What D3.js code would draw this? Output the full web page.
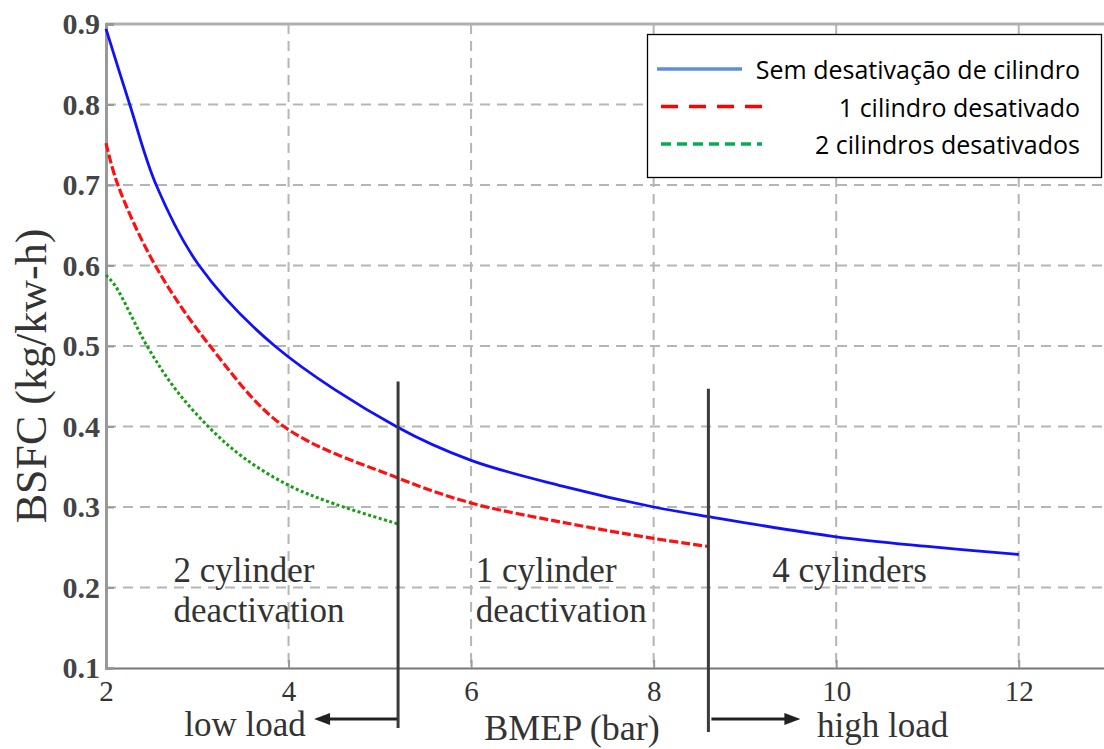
<!DOCTYPE html>
<html lang="pt">
<head>
<meta charset="UTF-8">
<title>BSFC vs BMEP</title>
<style>
  body { margin: 0; background: #fff; }
  .tick text { font-family: "Liberation Serif", "DejaVu Serif", serif; }
  .serif { font-family: "Liberation Serif", "DejaVu Serif", serif; fill: #333; }
  .legend text { font-family: "Open Sans", "Liberation Sans", sans-serif; font-size: 25px; fill: #000; }
</style>
</head>
<body>
<svg width="1104" height="749"></svg>
<script src="https://d3js.org/d3.v7.min.js"></script>
<script>

  // blue: no deactivation, red: 1 cylinder off, green: 2 cylinders off
  var bmepBlue  = [2, 2.26, 2.55, 3.02, 3.85, 5.18, 6, 7, 8, 8.6, 10, 11, 12];
  var bsfcBlue  = [0.894, 0.80, 0.70, 0.60, 0.50, 0.40, 0.358, 0.326, 0.30, 0.288, 0.263, 0.251, 0.241];

  var bmepRed   = [2, 2.13, 2.54, 3.14, 3.95, 5.2, 6, 7, 8, 8.6];
  var bsfcRed   = [0.752, 0.70, 0.60, 0.50, 0.40, 0.336, 0.305, 0.281, 0.261, 0.251];

  var bmepGreen = [2, 2.1, 2.45, 2.75, 3.12, 3.5, 4, 4.5, 5.2];
  var bsfcGreen = [0.588, 0.575, 0.50, 0.448, 0.40, 0.362, 0.327, 0.304, 0.279];

  var xTicks = [2, 4, 6, 8, 10, 12];
  var yTicks = [0.1, 0.2, 0.3, 0.4, 0.5, 0.6, 0.7, 0.8, 0.9];

  var legendLabels = ["Sem desativação de cilindro", "1 cilindro desativado", "2 cilindros desativados"];
  var regionLabels = [["2 cylinder", "deactivation"], ["1 cylinder", "deactivation"], ["4 cylinders"]];
  var regionStart = [2.74, 6.05, 9.3];
  var dividers = [5.2, 8.6];
  var dividerTop = [0.456, 0.447];

  var svg = d3.select("svg");

  var x = d3.scaleLinear().domain([2, 13]).range([106, 1110]);
  var y = d3.scaleLinear().domain([0.1, 0.9]).range([668, 24]);

  // grid
  var grid = svg.append("g");
  grid.selectAll(".hgrid")
      .data(yTicks.slice(1, 8))
      .enter().append("line")
      .attr("x1", x(2)).attr("x2", 1104)
      .attr("y1", function(d) { return y(d); })
      .attr("y2", function(d) { return y(d); })
      .attr("stroke", "#b5b5b5").attr("stroke-width", 2)
      .attr("stroke-dasharray", "10,7");
  grid.selectAll(".vgrid")
      .data(xTicks.slice(1))
      .enter().append("line")
      .attr("x1", function(d) { return x(d); })
      .attr("x2", function(d) { return x(d); })
      .attr("y1", y(0.9)).attr("y2", y(0.1))
      .attr("stroke", "#b5b5b5").attr("stroke-width", 2)
      .attr("stroke-dasharray", "10,7");

  // top border
  svg.append("line")
      .attr("x1", x(2)).attr("x2", 1104)
      .attr("y1", y(0.9)).attr("y2", y(0.9))
      .attr("stroke", "#b0b0b0").attr("stroke-width", 3);

  // axes
  var xAxis = svg.append("g")
      .attr("transform", "translate(0," + y(0.1) + ")")
      .call(d3.axisBottom(x).tickValues(xTicks).tickSize(-8).tickPadding(13).tickFormat(d3.format("d")));
  xAxis.select(".domain").attr("stroke", "#777").attr("stroke-width", 2);
  xAxis.selectAll(".tick line").attr("stroke", "#999").attr("stroke-width", 2);
  xAxis.selectAll(".tick text").attr("font-size", 29).attr("fill", "#333").attr("dy", "0.7em");

  var yAxis = svg.append("g")
      .attr("transform", "translate(" + x(2) + ",0)")
      .call(d3.axisLeft(y).tickValues(yTicks).tickSize(-8).tickPadding(6).tickFormat(d3.format(".1f")));
  yAxis.select(".domain").attr("stroke", "#999").attr("stroke-width", 3);
  yAxis.selectAll(".tick line").attr("stroke", "#999").attr("stroke-width", 2);
  yAxis.selectAll(".tick text").attr("font-size", 30).attr("fill", "#444").attr("font-weight", "bold");

  // curves
  var line = d3.line()
      .x(function(d) { return x(d[0]); })
      .y(function(d) { return y(d[1]); })
      .curve(d3.curveCatmullRom.alpha(0.5));

  var series = [
    { xs: bmepGreen, ys: bsfcGreen, color: "#12a012", dash: "3,2.5", width: 3 },
    { xs: bmepRed, ys: bsfcRed, color: "#ff1010", dash: "9,3", width: 3.2 },
    { xs: bmepBlue, ys: bsfcBlue, color: "#1010ff", dash: null, width: 2.8 }
  ];
  series.forEach(function(s) {
    svg.append("path")
        .datum(d3.zip(s.xs, s.ys))
        .attr("fill", "none")
        .attr("stroke", s.color)
        .attr("stroke-width", s.width)
        .attr("stroke-dasharray", s.dash)
        .attr("d", line);
  });

  // region dividers
  svg.selectAll(".divider")
      .data(dividers)
      .enter().append("line")
      .attr("x1", function(d) { return x(d); })
      .attr("x2", function(d) { return x(d); })
      .attr("y1", function(d, i) { return y(dividerTop[i]); })
      .attr("y2", function(d, i) { return y(0.1) + 60 + i * 4; })
      .attr("stroke", "#3a3a3a").attr("stroke-width", 3);

  // arrows
  var arrowY = y(0.1) + 51;
  var arrows = [
    { from: x(dividers[0]) - 1, to: x(dividers[0]) - 84 },
    { from: x(dividers[1]) + 3, to: x(dividers[1]) + 92 }
  ];
  arrows.forEach(function(a) {
    var dir = a.to > a.from ? 1 : -1;
    svg.append("line")
        .attr("x1", a.from).attr("x2", a.to - dir * 10)
        .attr("y1", arrowY).attr("y2", arrowY)
        .attr("stroke", "#222").attr("stroke-width", 3);
    svg.append("path")
        .attr("d", "M" + a.to + "," + arrowY + "L" + (a.to - dir * 16) + "," + (arrowY - 6) +
                   "L" + (a.to - dir * 16) + "," + (arrowY + 6) + "Z")
        .attr("fill", "#222");
  });

  // region labels
  regionLabels.forEach(function(lines, i) {
    lines.forEach(function(t, j) {
      svg.append("text")
          .attr("class", "serif")
          .attr("x", x(regionStart[i]))
          .attr("y", y(0.1) - 86 + j * 40)
          .attr("font-size", 35)
          .text(t);
    });
  });

  // axis titles
  svg.append("text").attr("class", "serif")
      .attr("x", 245).attr("y", arrowY + 17)
      .attr("text-anchor", "middle").attr("font-size", 35)
      .text("low load");
  svg.append("text").attr("class", "serif")
      .attr("x", 572).attr("y", arrowY + 21)
      .attr("text-anchor", "middle").attr("font-size", 36)
      .text("BMEP (bar)");
  svg.append("text").attr("class", "serif")
      .attr("x", 817).attr("y", arrowY + 18)
      .attr("font-size", 35)
      .text("high load");
  svg.append("text").attr("class", "serif")
      .attr("transform", "translate(46,376) rotate(-90)")
      .attr("text-anchor", "middle").attr("font-size", 44)
      .text("BSFC (kg/kw-h)");

  // legend
  var legend = svg.append("g").attr("class", "legend");
  legend.append("rect")
      .attr("x", 647.5).attr("y", 34.5).attr("width", 454).attr("height", 143)
      .attr("fill", "#fff").attr("stroke", "#000").attr("stroke-width", 1.3);
  var legendKeys = [
    { color: "#5b8fd9", dash: null, x2: 742, width: 3.5 },
    { color: "#ff0000", dash: "17,11", x2: 762, width: 3.5 },
    { color: "#00b050", dash: "10,6", x2: 762, width: 3.5 }
  ];
  legendLabels.forEach(function(t, i) {
    var ly = 69 + i * 37.5;
    legend.append("line")
        .attr("x1", i === 0 ? 657 : 661).attr("x2", legendKeys[i].x2)
        .attr("y1", ly).attr("y2", ly)
        .attr("stroke", legendKeys[i].color)
        .attr("stroke-width", legendKeys[i].width)
        .attr("stroke-dasharray", legendKeys[i].dash);
    legend.append("text")
        .attr("x", 1080).attr("y", ly + 10)
        .attr("text-anchor", "end")
        .text(t);
  });

</script>
</body>
</html>
